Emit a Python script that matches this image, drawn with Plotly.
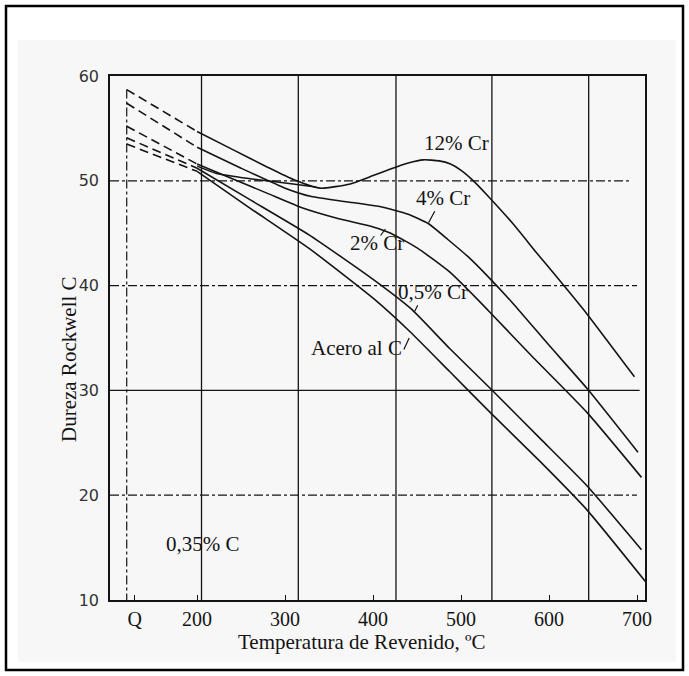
import plotly.graph_objects as go

# ---------------- data ----------------
q_pos = 120          # position of the as-quenched ("Q") state on the temperature axis
series_names = ["12% Cr", "4% Cr", "2% Cr", "0,5% Cr", "Acero al C"]
q_values = [58.7, 57.4, 55.2, 54.1, 53.5]

cr12_t = [200, 240, 280, 310, 340, 374, 400, 419, 440, 457, 475, 488, 500, 514, 530, 560, 586, 601, 643, 697]
cr12_v = [54.7, 53.0, 51.3, 50.1, 49.3, 49.7, 50.5, 51.1, 51.7, 52.0, 51.9, 51.6, 51.0, 50.0, 48.6, 45.8, 43.1, 41.6, 37.3, 31.3]
cr12_branch_t = [200, 222, 260, 309, 335]
cr12_branch_v = [51.4, 50.7, 50.2, 49.7, 49.4]

cr4_t = [200, 250, 300, 330, 370, 410, 440, 463, 485, 510, 529, 559, 600, 643, 701]
cr4_v = [53.2, 51.2, 49.3, 48.5, 48.0, 47.5, 46.8, 45.9, 44.4, 42.6, 41.0, 38.3, 34.3, 30.2, 24.1]

cr2_t = [200, 240, 280, 320, 360, 400, 420, 450, 487, 530, 580, 643, 705]
cr2_v = [51.6, 50.2, 48.8, 47.4, 46.4, 45.6, 45.0, 43.6, 41.3, 37.7, 33.3, 27.9, 21.7]

cr05_t = [200, 260, 328, 400, 443, 487, 533, 590, 643, 705]
cr05_v = [51.2, 48.2, 44.8, 40.6, 37.8, 34.0, 30.2, 25.4, 20.9, 14.8]

c_t = [200, 260, 328, 400, 442, 487, 533, 590, 643, 711]
c_v = [50.9, 47.4, 43.5, 38.8, 35.6, 31.8, 27.9, 23.2, 18.6, 11.6]

series_t = [cr12_t, cr4_t, cr2_t, cr05_t, c_t]
series_v = [cr12_v, cr4_v, cr2_v, cr05_v, c_v]

x_tick_vals = [129, 200, 300, 400, 500, 600, 700]
x_tick_text = ["Q", "200", "300", "400", "500", "600", "700"]
y_tick_vals = [10, 20, 30, 40, 50, 60]

grid_x = [205, 315, 426, 535, 645]
grid_y_dashdot = [20, 40, 50]
grid_y_solid = [30]

x_title = "Temperatura de Revenido, ºC"
y_title = "Dureza Rockwell C"

# label text, anchor point (T, HRC), leader head (T, HRC) and tail offset (px)
labels = [
    ("12% Cr", 495, 53.6, None),
    ("4% Cr", 479, 48.4, (463, 46.0, 7, -13)),
    ("2% Cr", 404, 44.1, (414, 45.4, -6, 8)),
    ("0,5% Cr", 468, 39.4, (447, 37.5, 4, -8)),
    ("Acero al C", 381, 34.0, (441, 35.0, -6, 13)),
    ("0,35% C", 207, 15.3, None),
]

# ---------------- figure ----------------
W, H = 689, 676
ML, MR, MT, MB = 110, 44, 76, 76
pw, ph = W - ML - MR, H - MT - MB

def px2paper(x, y):
    return (x - ML) / pw, (H - MB - y) / ph

ink = "#141414"
serif = "Liberation Serif, Times New Roman, serif"
fig = go.Figure()

# Q reference line
fig.add_trace(go.Scatter(x=[q_pos, q_pos], y=[max(q_values), 10], mode="lines",
                         line=dict(color=ink, width=1.2, dash="dashdot"),
                         hoverinfo="skip", showlegend=False))

for name, qv, ts, vs in zip(series_names, q_values, series_t, series_v):
    fig.add_trace(go.Scatter(x=[q_pos, ts[0]], y=[qv, vs[0]], mode="lines",
                             line=dict(color=ink, width=1.6, dash="9px,5px"),
                             showlegend=False, hoverinfo="skip"))
    fig.add_trace(go.Scatter(x=ts, y=vs, mode="lines", name=name,
                             line=dict(color=ink, width=1.6, shape="spline", smoothing=0.5),
                             showlegend=False))

fig.add_trace(go.Scatter(x=cr12_branch_t, y=cr12_branch_v, mode="lines",
                         line=dict(color=ink, width=1.5, shape="spline", smoothing=0.5),
                         showlegend=False, hoverinfo="skip"))

shapes = []
# scanned page tone and outer frame
x0, y0 = px2paper(18, 662)
x1, y1 = px2paper(676, 40)
shapes.append(dict(type="rect", xref="paper", yref="paper", x0=x0, y0=y0, x1=x1, y1=y1,
                   fillcolor="#f7f7f7", line=dict(width=0), layer="below"))
x0, y0 = px2paper(6, 670)
x1, y1 = px2paper(683, 6)
shapes.append(dict(type="rect", xref="paper", yref="paper", x0=x0, y0=y0, x1=x1, y1=y1,
                   line=dict(color="black", width=2.5), layer="above"))
fig.update_layout(shapes=shapes)

for gx in grid_x:
    fig.add_shape(type="line", xref="x", yref="paper", x0=gx, x1=gx, y0=0, y1=1,
                  line=dict(color=ink, width=1.3), layer="below")
for gy, xe in zip(grid_y_dashdot, [0.985, 0.985, 0.97]):
    fig.add_shape(type="line", xref="paper", yref="y", x0=0, x1=xe, y0=gy, y1=gy,
                  line=dict(color=ink, width=1.3, dash="dashdot"), layer="below")
for gy in grid_y_solid:
    fig.add_shape(type="line", xref="paper", yref="y", x0=0, x1=0.99, y0=gy, y1=gy,
                  line=dict(color=ink, width=1.3), layer="below")

for text, lx, ly, lead in labels:
    fig.add_annotation(x=lx, y=ly, text=text, showarrow=False,
                       font=dict(family=serif, size=21, color=ink))
    if lead:
        hx, hy, ax, ay = lead
        fig.add_annotation(x=hx, y=hy, text="", showarrow=True, arrowhead=0,
                           arrowwidth=1.2, arrowcolor=ink, ax=ax, ay=ay, standoff=0)

# axis titles (placed as in the scanned figure)
tx, ty = px2paper(362, 642)
fig.add_annotation(xref="paper", yref="paper", x=tx, y=ty, text=x_title, showarrow=False,
                   xanchor="center", yanchor="middle",
                   font=dict(family=serif, size=21, color=ink))
tx, ty = px2paper(69, 359)
fig.add_annotation(xref="paper", yref="paper", x=tx, y=ty, text=y_title, showarrow=False,
                   xanchor="center", yanchor="middle",
                   textangle=-90, font=dict(family=serif, size=21, color=ink))

fig.update_layout(
    width=W, height=H,
    margin=dict(l=ML, r=MR, t=MT, b=MB),
    paper_bgcolor="white", plot_bgcolor="rgba(0,0,0,0)",
    showlegend=False,
    xaxis=dict(range=[101, 709], tickvals=x_tick_vals, ticktext=x_tick_text,
               showgrid=False, zeroline=False, showline=True, mirror=True,
               linecolor=ink, linewidth=1.6, ticks="inside", ticklen=5,
               tickcolor=ink, tickfont=dict(family=serif, size=20, color=ink)),
    yaxis=dict(range=[10, 60], tickvals=y_tick_vals, showgrid=False, zeroline=False,
               showline=True, mirror=True, linecolor=ink, linewidth=1.6, ticks="",
               ticklabelstandoff=6,
               tickfont=dict(family="DejaVu Sans, sans-serif", size=16, color="#333")),
)

fig.write_html("out.html", config={"displayModeBar": False},
               post_script="document.body.style.margin='0';document.body.style.overflow='hidden';")
